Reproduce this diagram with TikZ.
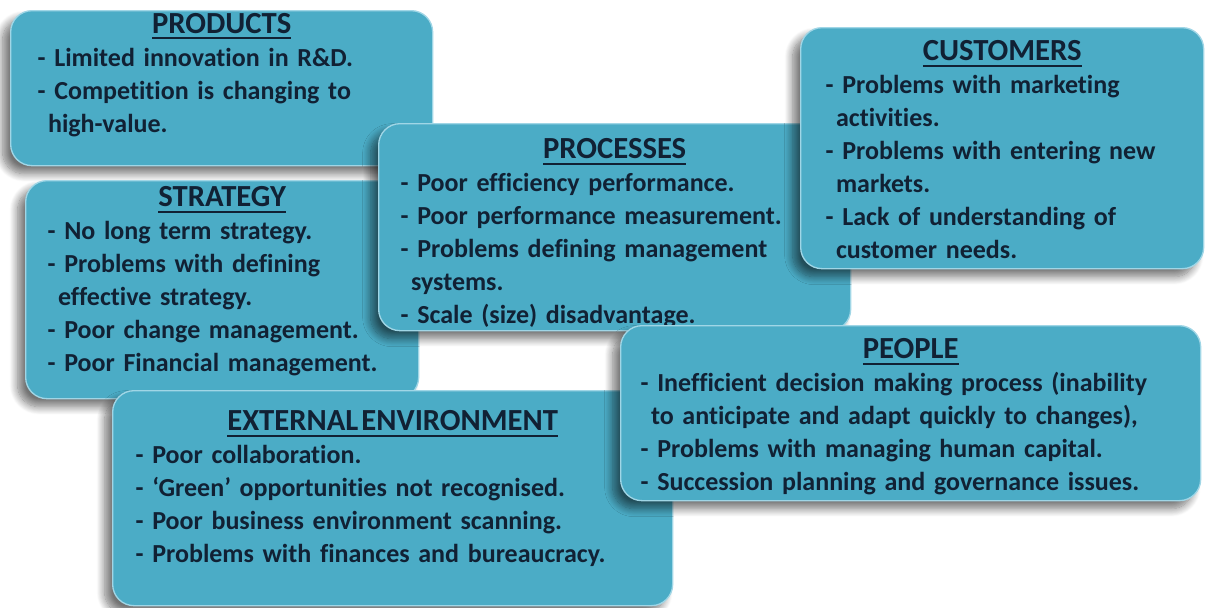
\documentclass[tikz,border=0pt]{standalone}
\usepackage{fontspec}
\setmainfont{Carlito}[Ligatures={TeX,CommonOff}]
\usepackage{tikz}
\usetikzlibrary{positioning}
\usetikzlibrary{shadows.blur}

\definecolor{cardblue}{RGB}{75,172,198}
\definecolor{cardrim}{RGB}{160,214,230}
\definecolor{cardink}{RGB}{17,33,52}

% underlined heading, a size up from the items
\newcommand{\cardhead}[1]{\setbox0=\hbox{\fontsize{23pt}{24.75pt}\selectfont #1}\rlap{\vrule height -2.8pt depth 4.3pt width \wd0}\box0\strut\par\raggedright}
% indent for wrapped item lines
\newcommand{\wrapind}{\hspace*{0.4em}}

\begin{document}
\begin{tikzpicture}[x=0.75pt, y=-0.75pt,
    card/.style={draw=cardrim, line width=1pt, fill=cardblue, rounded corners=16pt,
      anchor=north west, inner sep=0pt,
      blur shadow={shadow xshift=-6pt, shadow yshift=-6pt, shadow blur steps=12,
        shadow blur radius=6pt, shadow opacity=55}},
    cardtext/.style={text=cardink, font=\fontsize{19.5pt}{24.75pt}\selectfont\bfseries,
      align=left, inner sep=0pt}]
    \useasboundingbox (0,0) rectangle (1206,607);

    % products
    \node [card, minimum width=316.5pt, minimum height=116.25pt] (prod) at (10,10) {};
    \node [cardtext, text width=276pt, below=0pt of prod.north] (prodtext) {\centering\cardhead{PRODUCTS}
      - Limited innovation in R\&D.\\
      - Competition is changing to\\
      \wrapind high-value.};

    % strategy
    \node [card, minimum width=294.75pt, minimum height=163.5pt] (strat) at (25,180) {};
    \node [cardtext, text width=261.75pt, below=2.6pt of strat.north] (strattext) {\centering\cardhead{STRATEGY}
      - No long term strategy.\\
      - Problems with defining\\
      \wrapind effective strategy.\\
      - Poor change management.\\
      - Poor Financial management.};

    % external environment
    \node [card, minimum width=420pt, minimum height=161.25pt] (ext) at (112,390) {};
    \node [cardtext, text width=385.5pt, below=13.1pt of ext.north] (exttext) {\centering\cardhead{EXTERNAL\hspace{0.1em}ENVIRONMENT}
      - Poor collaboration.\\
      - `Green' opportunities not recognised.\\
      - Poor business environment scanning.\\
      - Problems with finances and bureaucracy.};

    % processes
    \node [card, minimum width=354pt, minimum height=155.25pt] (proc) at (378,123) {};
    \node [cardtext, text width=321pt, below=9.4pt of proc.north] (proctext) {\centering\cardhead{PROCESSES}
      - Poor efficiency performance.\\
      - Poor performance measurement.\\
      - Problems defining management\\
      \wrapind systems.\\
      - Scale (size) disadvantage.};

    % customers
    \node [card, minimum width=302.25pt, minimum height=180.75pt] (cust) at (800,27) {};
    \node [cardtext, text width=264.75pt, below=7.9pt of cust.north] (custtext) {\centering\cardhead{CUSTOMERS}
      - Problems with marketing\\
      \wrapind activities.\\
      - Problems with entering new\\
      \wrapind markets.\\
      - Lack of understanding of\\
      \wrapind customer needs.};

    % people
    \node [card, minimum width=435pt, minimum height=131.25pt] (people) at (620,325) {};
    \node [cardtext, text width=405pt, below=7.9pt of people.north] (peopletext) {\centering\cardhead{PEOPLE}
      - Inefficient decision making process (inability\\
      \wrapind to anticipate and adapt quickly to changes),\\
      - Problems with managing human capital.\\
      - Succession planning and governance issues.};
\end{tikzpicture}
\end{document}
